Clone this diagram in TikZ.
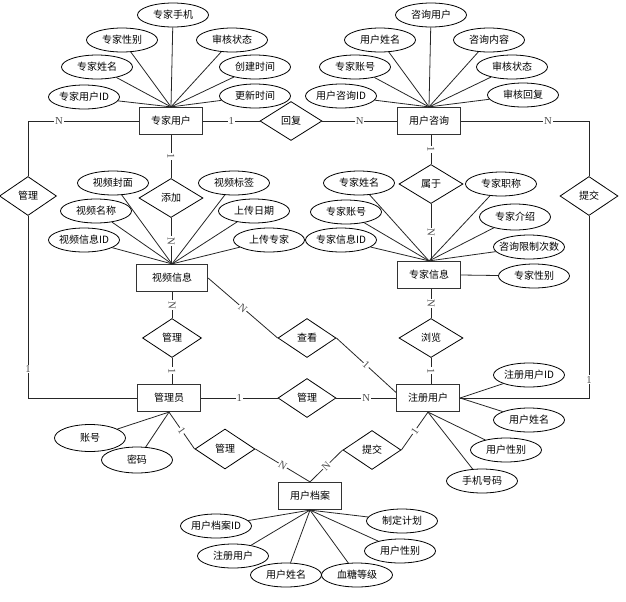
\documentclass[tikz,border=0pt]{standalone}
\usepackage{fontspec}
\newfontfamily\cjk{Noto Sans CJK SC}
\newfontfamily\lblf{Liberation Serif}
\usetikzlibrary{shapes.geometric}
\def\px{0.75pt}
\newcommand\ztxt[1]{\makebox[0pt]{#1}}
\begin{document}
\begin{tikzpicture}[x=0.75pt,y=-0.75pt,
  every node/.style={font=\cjk\fontsize{7.5}{9}\selectfont},
  ent/.style={rectangle, draw=black!80, line width=0.9pt, minimum width=63*\px, minimum height=27*\px, inner sep=0pt, fill=white},
  rel/.style={diamond, draw=black, line width=0.6pt, minimum width=60*\px, minimum height=39*\px, inner sep=0pt},
  att/.style={ellipse, draw=black, line width=0.6pt, minimum width=71*\px, minimum height=24*\px, inner sep=0pt},
  ln/.style={draw=black!85, line width=0.6pt},
  card/.style={font=\lblf\fontsize{8}{8}\selectfont, text=black!70, fill=white, inner sep=0.6pt},
]
\useasboundingbox (0,0) rectangle (626,601);
% entities
\node[ent] (zjyh) at (171,121) {专家用户};
\node[ent] (yhzx) at (429,121) {用户咨询};
\node[ent, minimum width=71*\px] (spxx) at (172,278) {视频信息};
\node[ent] (zjxx) at (429,275) {专家信息};
\node[ent] (gly) at (169,398) {管理员};
\node[ent] (zcyh) at (428,398) {注册用户};
\node[ent] (yhda) at (310,496) {用户档案};
% relations
\node[rel, minimum width=62*\px] (hf) at (291,121) {回复};
\node[rel, minimum width=57*\px] (gl1) at (28,196) {管理};
\node[rel, minimum width=64*\px] (tj) at (171,198) {添加};
\node[rel, minimum width=64*\px] (sy) at (431,184) {属于};
\node[rel, minimum width=58*\px] (tj1) at (589,196) {提交};
\node[rel, minimum width=59*\px] (gl2) at (172,338) {管理};
\node[rel, minimum width=58*\px] (ck) at (307,338) {查看};
\node[rel, minimum width=58*\px] (gl3) at (307,398) {管理};
\node[rel, minimum width=64*\px] (ll) at (431,338) {浏览};
\node[rel, minimum width=60*\px, minimum height=40*\px] (gl4) at (225,449) {管理};
\node[rel, minimum width=58*\px] (tj2) at (372,450) {提交};
% attributes of 专家用户
\node[att] (a1) at (84,97) {\ztxt{专家用户ID}};
\node[att] (a2) at (97,67) {\ztxt{专家姓名}};
\node[att] (a3) at (122,40) {\ztxt{专家性别}};
\node[att] (a4) at (173,15) {\ztxt{专家手机}};
\node[att] (a5) at (232,40) {\ztxt{审核状态}};
\node[att] (a6) at (255,67) {\ztxt{创建时间}};
\node[att] (a7) at (255,96) {\ztxt{更新时间}};
\foreach \a in {a1,a2,a3,a4,a5,a6,a7} \draw[ln] (\a) -- (zjyh.north);
% attributes of 用户咨询
\node[att] (b1) at (341,96) {\ztxt{用户咨询ID}};
\node[att] (b2) at (355,67) {\ztxt{专家账号}};
\node[att] (b3) at (380,40) {\ztxt{用户姓名}};
\node[att] (b4) at (431,15) {\ztxt{咨询用户}};
\node[att] (b5) at (489,40) {\ztxt{咨询内容}};
\node[att] (b6) at (512,67) {\ztxt{审核状态}};
\node[att] (b7) at (523,95) {\ztxt{审核回复}};
\foreach \a in {b1,b2,b3,b4,b5,b6,b7} \draw[ln] (\a) -- (yhzx.north);
% attributes of 视频信息
\node[att] (c1) at (84,240) {\ztxt{视频信息ID}};
\node[att] (c2) at (96,211) {\ztxt{视频名称}};
\node[att] (c3) at (113,183) {\ztxt{视频封面}};
\node[att] (c4) at (234,183) {\ztxt{视频标签}};
\node[att] (c5) at (254,211) {\ztxt{上传日期}};
\node[att] (c6) at (269,240) {\ztxt{上传专家}};
\foreach \a in {c1,c2,c3,c4,c5,c6} \draw[ln] (\a) -- (spxx.north);
% attributes of 专家信息
\node[att] (d1) at (359,183) {\ztxt{专家姓名}};
\node[att] (d2) at (346,212) {\ztxt{专家账号}};
\node[att] (d3) at (341,240) {\ztxt{专家信息ID}};
\node[att] (d4) at (501,184) {\ztxt{专家职称}};
\node[att, minimum height=26*\px] (d5) at (515,217) {\ztxt{专家介绍}};
\node[att] (d6) at (529,247) {\ztxt{咨询限制次数}};
\node[att] (d7) at (534,276) {\ztxt{专家性别}};
\foreach \a in {d1,d2,d3,d4,d5,d6} \draw[ln] (\a) -- (zjxx.north);
\draw[ln] (zjxx.east) -- (d7);
% attributes of 注册用户
\node[att] (e1) at (529,375) {\ztxt{注册用户ID}};
\node[att] (e2) at (529,420) {\ztxt{用户姓名}};
\node[att] (e3) at (506,450) {\ztxt{用户性别}};
\node[att] (e4) at (482,481) {\ztxt{手机号码}};
\draw[ln] (e1) -- (zcyh.east);
\draw[ln] (e2) -- (zcyh.east);
\draw[ln] (e3) -- (zcyh.south);
\draw[ln] (e4) -- (zcyh.south);
% attributes of 管理员
\node[att, minimum height=27*\px] (f1) at (90,438) {\ztxt{账号}};
\node[att, minimum height=26*\px] (f2) at (137,460) {\ztxt{密码}};
\draw[ln] (f1) -- (gly.south);
\draw[ln] (f2) -- (gly.south);
% attributes of 用户档案
\node[att] (g1) at (216,526) {\ztxt{用户档案ID}};
\node[att] (g2) at (233,556) {\ztxt{注册用户}};
\node[att] (g3) at (286,575) {\ztxt{用户姓名}};
\node[att] (g4) at (357,575) {\ztxt{血糖等级}};
\node[att] (g5) at (400,551) {\ztxt{用户性别}};
\node[att] (g6) at (402,521) {\ztxt{制定计划}};
\foreach \a in {g1,g2,g3,g4,g5,g6} \draw[ln] (\a) -- (yhda.south);
% relationship connectors
\draw[ln] (zjyh.west) -| node[card, pos=0.36]{N} (gl1.north);
\draw[ln] (gl1.south) |- node[card, pos=0.42]{1} (gly.west);
\draw[ln] (zjyh.east) -- node[card]{1} (hf.west);
\draw[ln] (hf.east) -- node[card]{N} (yhzx.west);
\draw[ln] (yhzx.east) -| node[card, pos=0.34]{N} (tj1.north);
\draw[ln] (tj1.south) |- node[card, pos=0.45]{1} (zcyh.east);
\draw[ln] (zjyh.south) -- node[card, sloped]{1} (tj.north);
\draw[ln] (tj.south) -- node[card, sloped]{N} (tj.south |- spxx.north);
\draw[ln] (gl2.north |- spxx.south) -- node[card, sloped]{N} (gl2.north);
\draw[ln] (gl2.south) -- node[card, sloped]{1} (gl2.south |- gly.north);
\draw[ln] (spxx.east) -- node[card, sloped]{N} (ck.west);
\draw[ln] (ck.east) -- node[card, sloped]{1} (zcyh.170);
\draw[ln] (sy.north |- yhzx.south) -- node[card, sloped]{1} (sy.north);
\draw[ln] (sy.south) -- node[card, sloped]{N} (sy.south |- zjxx.north);
\draw[ln] (ll.north |- zjxx.south) -- node[card, sloped]{N} (ll.north);
\draw[ln] (ll.south) -- node[card, sloped]{1} (ll.south |- zcyh.north);
\draw[ln] (gly.east) -- node[card]{1} (gl3.west);
\draw[ln] (gl3.east) -- node[card]{N} (zcyh.west);
\draw[ln] (gly.south) -- node[card, sloped]{1} (gl4.west);
\draw[ln] (gl4.east) -- node[card, sloped]{N} (yhda.north);
\draw[ln] (zcyh.south) -- node[card, sloped]{1} (tj2.east);
\draw[ln] (tj2.west) -- node[card, sloped]{N} (yhda.north);
\end{tikzpicture}
\end{document}
